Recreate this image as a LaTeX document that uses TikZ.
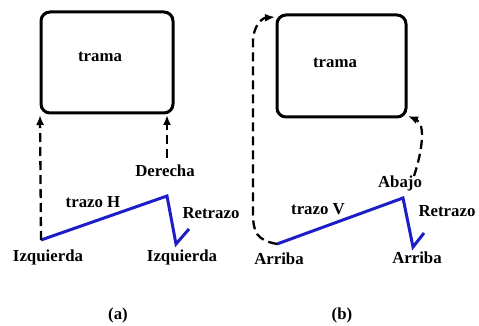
\documentclass[tikz,border=0pt]{standalone}
\usepackage{fontspec}
\setmainfont{Liberation Serif}
\usetikzlibrary{arrows.meta}
\definecolor{scanblue}{RGB}{30,30,200}
\tikzset{
  frame/.style={draw, line width=3pt, rounded corners=9pt, inner sep=0pt},
  lbl/.style={font=\bfseries\fontsize{16.8}{19}\selectfont, inner sep=0pt},
  scan/.style={draw=scanblue, line width=3pt, line join=miter},
  ret/.style={draw, line width=2.3pt, dash pattern=on 9pt off 5pt, -{Latex[length=10pt,width=8pt]}}
}
\begin{document}
\begin{tikzpicture}[x=1pt,y=-1pt]
\useasboundingbox (0,0) rectangle (479,326);
% ---- (a)
\node[frame, minimum width=132pt, minimum height=101pt] (boxa) at (107,62.5) {};
\node[lbl] (trama a) at (100,57) {trama};
\coordinate (a0) at (41,240);
\coordinate (a1) at (167,196);
\coordinate (a2) at (176,244);
\coordinate (a3) at (189,229);
\coordinate (ad) at (167,158);
\coordinate (al) at (40,115);
\coordinate (ar) at (167,115);
\draw[scan] (a0) -- (a1) -- (a2) -- (a3);
\draw[ret] (a0) -- (al);
\draw[ret] (ad) -- (ar);
\node[lbl] (der) at (165,171) {Derecha};
\node[lbl] (trh) at (93,202) {trazo H};
\node[lbl] (reta) at (211,213) {Retrazo};
\node[lbl] (izq1) at (48,257) {Izquierda};
\node[lbl] (izq2) at (182,257) {Izquierda};
\node[lbl] (capa) at (118,315) {(a)};
% ---- (b)
\node[frame, minimum width=129pt, minimum height=102pt] (boxb) at (341.5,66) {};
\node[lbl] (trama b) at (335,63) {trama};
\coordinate (b0) at (277,244);
\coordinate (b1) at (403,198);
\coordinate (b2) at (413,247);
\coordinate (b3) at (424,233);
\coordinate (bt) at (275,17);
\coordinate (bu) at (414,176);
\coordinate (bb) at (408,116);
\draw[scan] (b0) -- (b1) -- (b2) -- (b3);
\draw[ret] (b0) .. controls (256,240) and (253,232) .. (253,212) -- (253,42) .. controls (253,26) and (262,18) .. (bt);
\draw[ret] (bu) .. controls (422,152) and (426,124) .. (bb);
\node[lbl] (abajo) at (400,183) {Abajo};
\node[lbl] (trv) at (318,209) {trazo V};
\node[lbl] (retb) at (447,211) {Retrazo};
\node[lbl] (arr1) at (279,259) {Arriba};
\node[lbl] (arr2) at (417,258) {Arriba};
\node[lbl] (capb) at (342,315) {(b)};
\end{tikzpicture}
\end{document}
